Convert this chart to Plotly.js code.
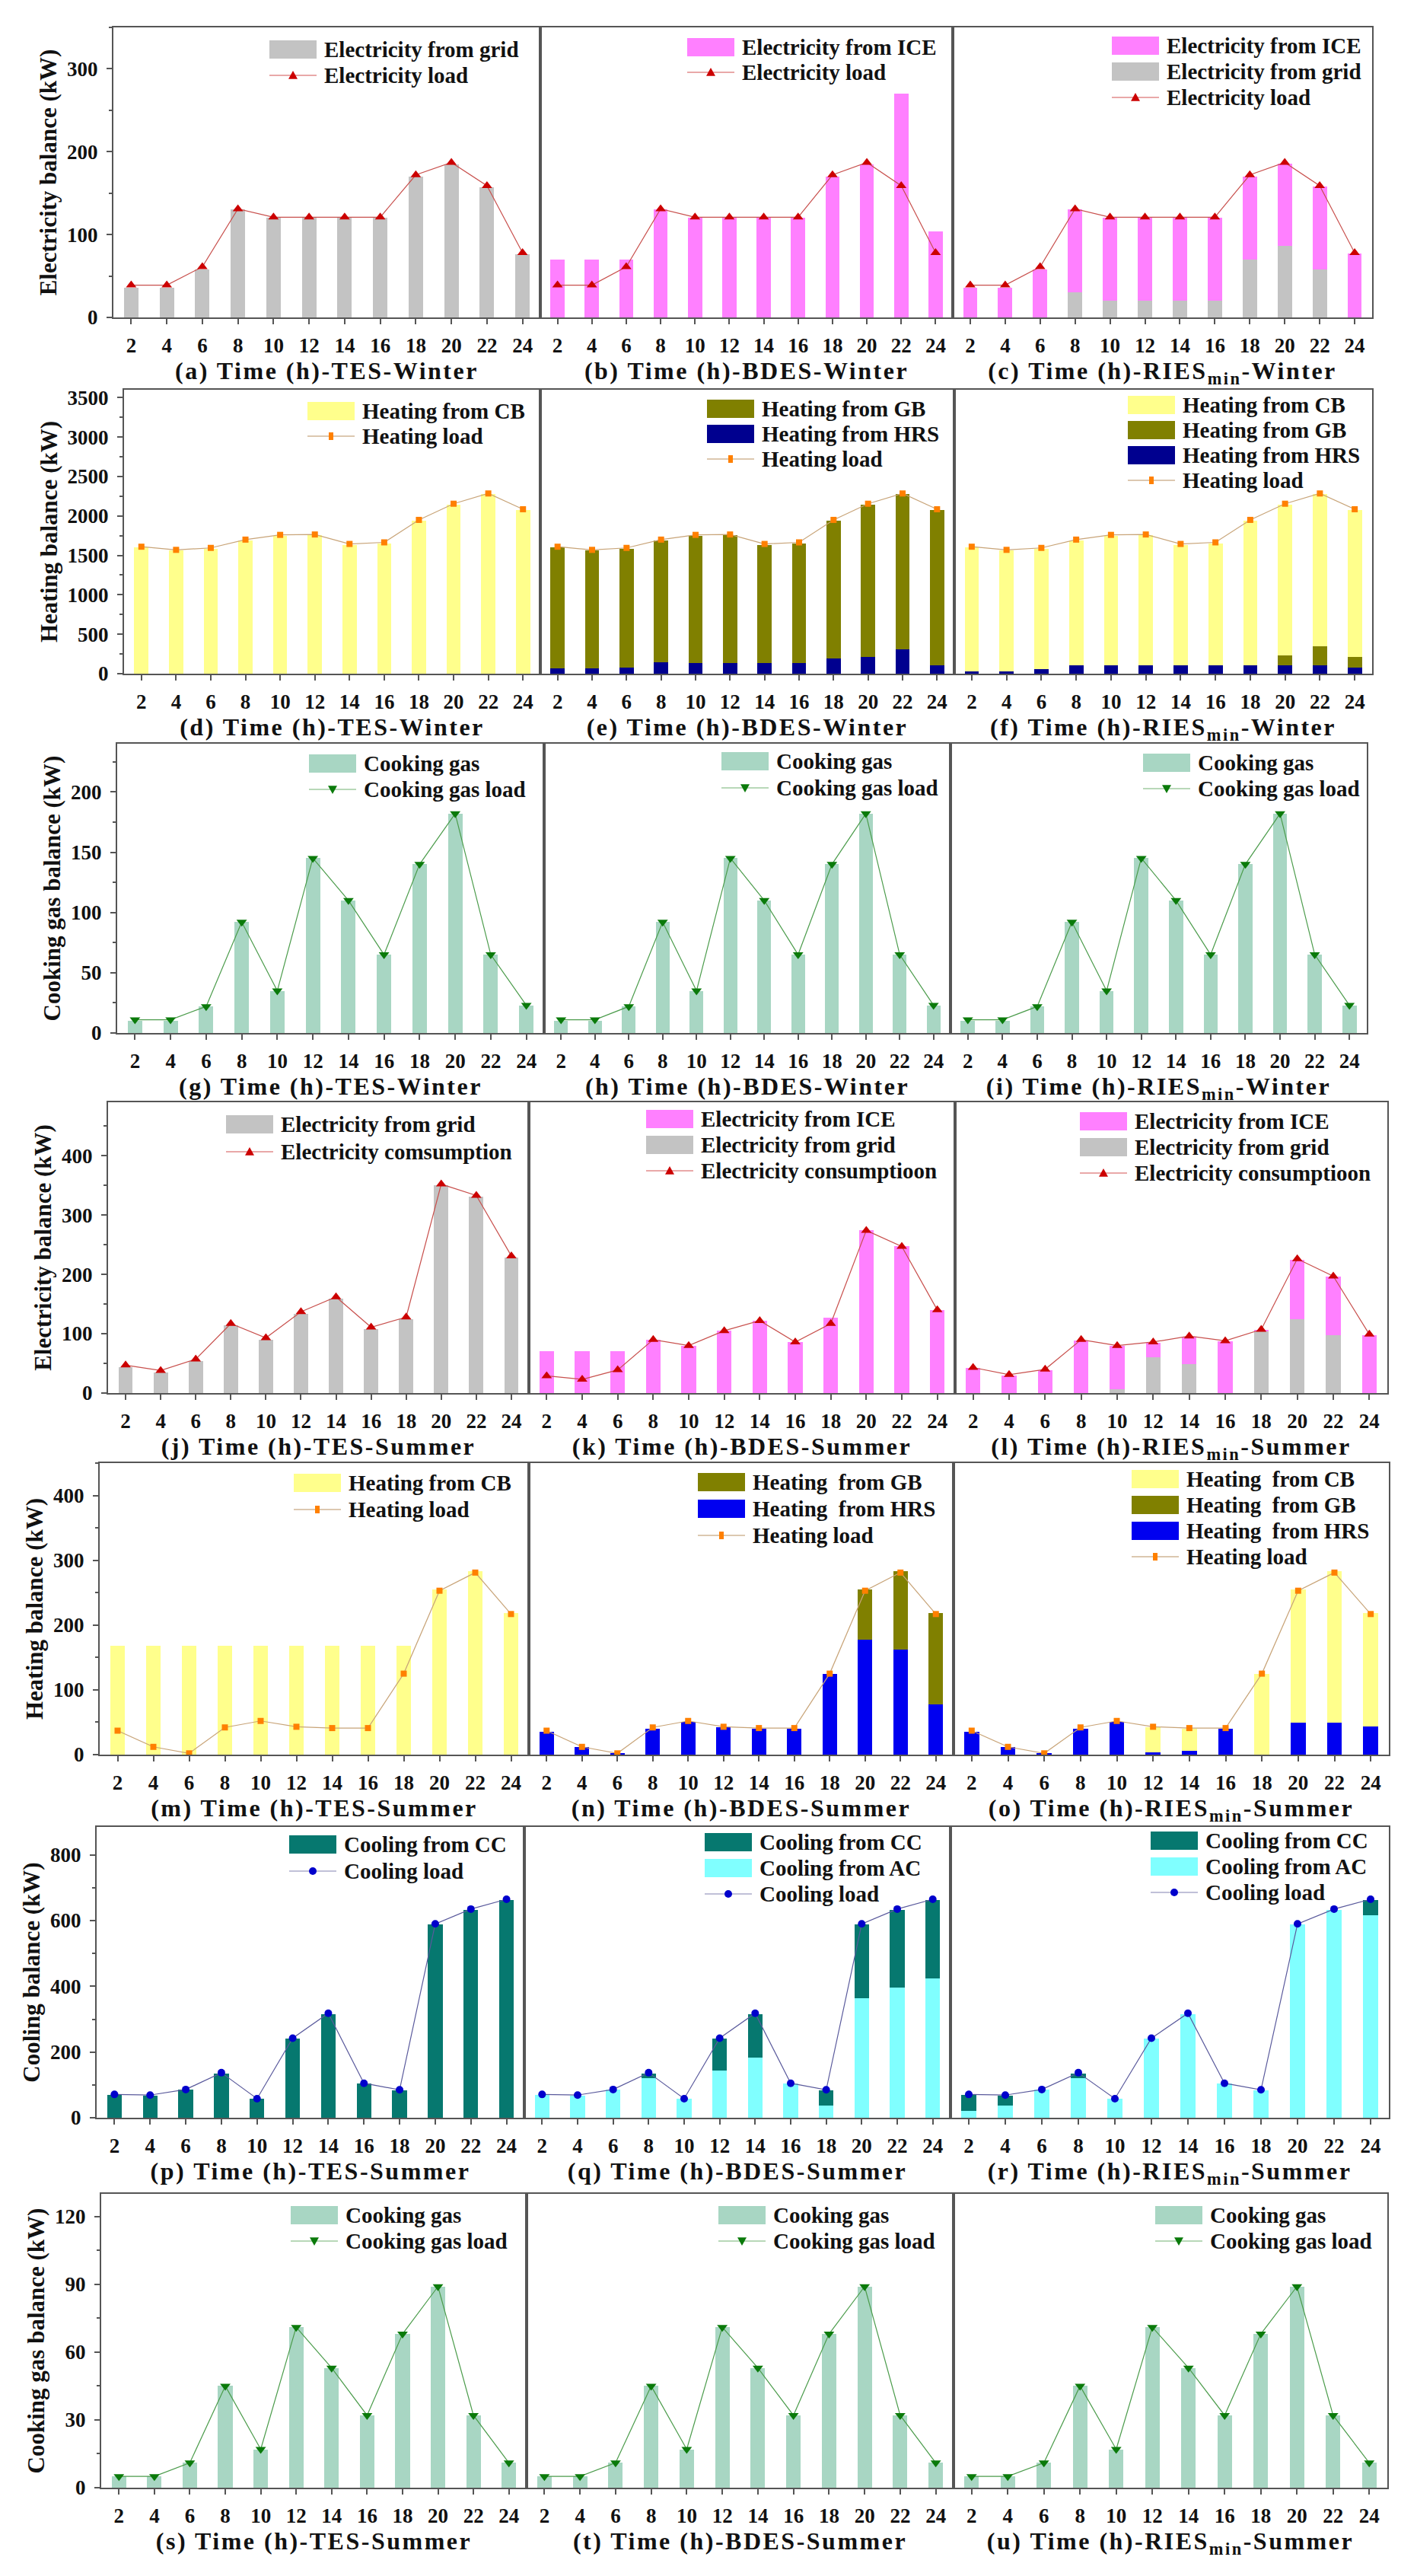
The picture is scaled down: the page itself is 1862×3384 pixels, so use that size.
<!DOCTYPE html>
<html>
<head>
<meta charset="utf-8">
<script src="https://cdn.plot.ly/plotly-3.0.1.min.js"></script>
<style>
html,body{margin:0;padding:0;background:#fff;}
#chart{width:1862px;height:3384px;}
#chart text[class^="x"][class$="title"]{letter-spacing:2.5px;}
</style>
</head>
<body>
<div id="chart"></div>
<script>
// ---------- data ----------
const hours = [2, 4, 6, 8, 10, 12, 14, 16, 18, 20, 22, 24];
const hourLabels = ['2','4','6','8','10','12','14','16','18','20','22','24'];

// Winter electricity
const elecLoadW  = [39, 39, 61, 131, 121, 121, 121, 121, 172, 187, 159, 78];
const gridTES_W  = [36, 36, 58, 130, 120, 120, 120, 120, 170, 185, 157, 76];
const iceBDES_W  = [70, 70, 70, 130, 120, 120, 120, 120, 170, 185, 270, 104];
const gridRIES_W = [0, 0, 0, 30, 20, 20, 20, 20, 70, 86, 58, 0];
const iceRIES_W  = [36, 36, 58, 100, 100, 100, 100, 100, 100, 100, 100, 77];

// Winter heating
const heatLoadW  = [1610, 1570, 1595, 1700, 1760, 1765, 1645, 1665, 1950, 2155, 2285, 2085];
const cbTES_W    = [1600, 1560, 1585, 1690, 1750, 1755, 1635, 1655, 1940, 2145, 2275, 2075];
const hrsBDES_W  = [72, 72, 75, 145, 135, 135, 135, 135, 192, 210, 306, 103];
const gbBDES_W   = [1528, 1488, 1510, 1545, 1615, 1620, 1500, 1520, 1748, 1935, 1969, 1972];
const hrsRIES_W  = [32, 32, 55, 103, 103, 103, 103, 103, 103, 103, 103, 74];
const gbRIES_W   = [0, 0, 0, 0, 0, 0, 0, 0, 0, 132, 245, 136];
const cbRIES_W   = [1568, 1528, 1530, 1587, 1647, 1652, 1532, 1552, 1837, 1910, 1927, 1865];

// Winter cooking gas
const cookLoadW  = [11, 11, 22, 92, 35, 145, 110, 65, 140, 182, 65, 23];
const cookGasW   = [10, 10, 22, 92, 35, 145, 110, 65, 140, 182, 65, 23];

// Summer electricity
const elecLoadS_TES  = [47, 38, 57, 117, 93, 137, 162, 111, 128, 352, 333, 231];
const gridTES_S      = [44, 35, 54, 114, 90, 134, 159, 108, 125, 350, 331, 228];
const elecLoadS_BDES = [29, 23, 39, 90, 80, 105, 122, 86, 117, 274, 247, 140];
const gridBDES_S     = [0, 0, 0, 0, 0, 0, 0, 0, 0, 0, 0, 0];
const iceBDES_S      = [70, 70, 70, 90, 80, 105, 122, 86, 127, 274, 247, 140];
const elecLoadS_RIES = [43, 31, 40, 90, 80, 86, 96, 88, 107, 226, 197, 99];
const gridRIES_S     = [0, 0, 0, 0, 6, 60, 49, 0, 104, 125, 97, 0];
const iceRIES_S      = [42, 30, 39, 89, 73, 25, 46, 87, 2, 100, 99, 98];

// Summer heating
const heatLoadS  = [37, 12, 2, 42, 52, 43, 41, 41, 125, 253, 281, 217];
const cbTES_S    = [168, 168, 168, 168, 168, 168, 168, 168, 168, 255, 283, 218];
const hrsBDES_S  = [35, 12, 2, 40, 50, 42, 40, 40, 125, 178, 162, 77];
const gbBDES_S   = [0, 0, 0, 0, 0, 0, 0, 0, 0, 77, 121, 141];
const hrsRIES_S  = [35, 12, 2, 40, 50, 3, 6, 40, 0, 49, 49, 43];
const gbRIES_S   = [0, 0, 0, 0, 0, 0, 0, 0, 0, 0, 0, 0];
const cbRIES_S   = [0, 0, 0, 0, 0, 39, 34, 0, 125, 206, 234, 175];

// Summer cooling
const coolLoad = [71, 69, 86, 137, 58, 242, 318, 105, 85, 590, 635, 665];
const ccTES    = [70, 68, 85, 135, 57, 240, 316, 104, 84, 588, 633, 663];
const acBDES   = [70, 68, 85, 120, 57, 144, 183, 104, 38, 364, 396, 425];
const ccBDES   = [0, 0, 0, 15, 0, 96, 133, 0, 46, 224, 237, 238];
const acRIES   = [20, 38, 85, 120, 57, 240, 316, 104, 84, 588, 633, 617];
const ccRIES   = [50, 30, 0, 15, 0, 0, 0, 0, 0, 0, 0, 46];

// Summer cooking gas
const cookLoadS = [5, 5, 11, 45, 17, 71, 53, 32, 68, 89, 32, 11];
const cookGasS  = [5, 5, 11, 45, 17, 71, 53, 32, 68, 89, 32, 11];

// Text
const yTitles = ['Electricity balance (kW)', 'Heating balance (kW)', 'Cooking gas balance (kW)',
                 'Electricity balance (kW)', 'Heating balance (kW)', 'Cooling balance (kW)', 'Cooking gas balance (kW)'];
const panelLetters = ['a','b','c','d','e','f','g','h','i','j','k','l','m','n','o','p','q','r','s','t','u'];
const systems = ['TES', 'BDES', 'RIES<sub>min</sub>'];
const seasons = ['Winter', 'Winter', 'Winter', 'Summer', 'Summer', 'Summer', 'Summer'];
const yRanges = [[0, 350], [0, 3600], [0, 240], [0, 490], [0, 450], [0, 885], [0, 130]];
const yDticks = [100, 500, 50, 100, 100, 200, 30];

// ---------- styling / layout ----------
const W = 1862, H = 3384;
const FONT = "'Liberation Serif', 'Times New Roman', serif";
const C = {grid:'#c3c3c3', ice:'#ff80ff', cb:'#ffff8c', gb:'#808000', hrsW:'#00008f', hrsS:'#0000f0',
           cook:'#a8d6c3', cc:'#06786f', ac:'#80ffff'};
const LOADSTYLE = {
  elec: {line:'#c8504d', leg:'#e9a8a8', symbol:'triangle-up', mc:'#cc0000', size:12},
  heat: {line:'#c8a478', leg:'#dcc8b0', symbol:'square', mc:'#ff8000', size:8},
  cook: {line:'#4c9c4c', leg:'#b8d8b8', symbol:'triangle-down', mc:'#0a7a0a', size:12},
  cool: {line:'#5a5a9c', leg:'#c0c0d8', symbol:'circle', mc:'#0000cc', size:10}
};
const rowsPx = [[36,417],[512,885],[977,1357],[1448,1830],[1922,2305],[2400,2782],[2882,3268]];
const colsPx = [[149,710,1252,1803],[163,710,1254,1803],[154,715,1249,1796],[142,695,1255,1823],
                [131,695,1253,1825],[127,689,1249,1825],[133,692,1253,1823]];

function B(name, y, color){ return {name, y, color}; }
function L(name, y, kind){ return {name, y, kind}; }

const panels = [
  {bars:[B('Electricity from grid', gridTES_W, C.grid)], load:L('Electricity load', elecLoadW, 'elec'), leg:[354,65,34]},
  {bars:[B('Electricity from ICE', iceBDES_W, C.ice)], load:L('Electricity load', elecLoadW, 'elec'), leg:[903,62,33]},
  {bars:[B('Electricity from grid', gridRIES_W, C.grid), B('Electricity from ICE', iceRIES_W, C.ice)], load:L('Electricity load', elecLoadW, 'elec'), leg:[1461,60,34]},

  {bars:[B('Heating from CB', cbTES_W, C.cb)], load:L('Heating load', heatLoadW, 'heat'), leg:[404,540,33]},
  {bars:[B('Heating from HRS', hrsBDES_W, C.hrsW), B('Heating from GB', gbBDES_W, C.gb)], load:L('Heating load', heatLoadW, 'heat'), leg:[929,537,33]},
  {bars:[B('Heating from HRS', hrsRIES_W, C.hrsW), B('Heating from GB', gbRIES_W, C.gb), B('Heating from CB', cbRIES_W, C.cb)], load:L('Heating load', heatLoadW, 'heat'), leg:[1482,532,33]},

  {bars:[B('Cooking gas', cookGasW, C.cook)], load:L('Cooking gas load', cookLoadW, 'cook'), leg:[406,1003,34]},
  {bars:[B('Cooking gas', cookGasW, C.cook)], load:L('Cooking gas load', cookLoadW, 'cook'), leg:[948,1000,35]},
  {bars:[B('Cooking gas', cookGasW, C.cook)], load:L('Cooking gas load', cookLoadW, 'cook'), leg:[1502,1002,34]},

  {bars:[B('Electricity from grid', gridTES_S, C.grid)], load:L('Electricity comsumption', elecLoadS_TES, 'elec'), leg:[297,1477,36]},
  {bars:[B('Electricity from grid', gridBDES_S, C.grid), B('Electricity from ICE', iceBDES_S, C.ice)], load:L('Electricity consumptioon', elecLoadS_BDES, 'elec'), leg:[849,1470,34]},
  {bars:[B('Electricity from grid', gridRIES_S, C.grid), B('Electricity from ICE', iceRIES_S, C.ice)], load:L('Electricity consumptioon', elecLoadS_RIES, 'elec'), leg:[1419,1473,34]},

  {bars:[B('Heating from CB', cbTES_S, C.cb)], load:L('Heating load', heatLoadS, 'heat'), leg:[386,1948,35]},
  {bars:[B('Heating  from HRS', hrsBDES_S, C.hrsS), B('Heating  from GB', gbBDES_S, C.gb)], load:L('Heating load', heatLoadS, 'heat'), leg:[917,1947,35]},
  {bars:[B('Heating  from HRS', hrsRIES_S, C.hrsS), B('Heating  from GB', gbRIES_S, C.gb), B('Heating  from CB', cbRIES_S, C.cb)], load:L('Heating load', heatLoadS, 'heat'), leg:[1487,1943,34]},

  {bars:[B('Cooling from CC', ccTES, C.cc)], load:L('Cooling load', coolLoad, 'cool'), leg:[380,2423,35]},
  {bars:[B('Cooling from AC', acBDES, C.ac), B('Cooling from CC', ccBDES, C.cc)], load:L('Cooling load', coolLoad, 'cool'), leg:[926,2420,34]},
  {bars:[B('Cooling from AC', acRIES, C.ac), B('Cooling from CC', ccRIES, C.cc)], load:L('Cooling load', coolLoad, 'cool'), leg:[1512,2418,34]},

  {bars:[B('Cooking gas', cookGasS, C.cook)], load:L('Cooking gas load', cookLoadS, 'cook'), leg:[382,2910,34]},
  {bars:[B('Cooking gas', cookGasS, C.cook)], load:L('Cooking gas load', cookLoadS, 'cook'), leg:[944,2910,34]},
  {bars:[B('Cooking gas', cookGasS, C.cook)], load:L('Cooking gas load', cookLoadS, 'cook'), leg:[1518,2910,34]}
];

const px = x => x / W;
const py = y => 1 - y / H;

const traces = [];
const layout = {
  width: W, height: H, autosize: false,
  margin: {l:0, r:0, t:0, b:0},
  paper_bgcolor: '#fff', plot_bgcolor: '#fff',
  showlegend: false, barmode: 'stack',
  font: {family: FONT, color: '#111', size: 26},
  shapes: [], annotations: []
};

panels.forEach((p, k) => {
  const row = Math.floor(k / 3), col = k % 3, n = k + 1;
  const xa = n === 1 ? 'x' : 'x' + n, ya = n === 1 ? 'y' : 'y' + n;
  const xk = n === 1 ? 'xaxis' : 'xaxis' + n, yk = n === 1 ? 'yaxis' : 'yaxis' + n;
  const cx = colsPx[row], ry = rowsPx[row];

  p.bars.forEach(b => traces.push({
    type: 'bar', name: b.name, x: hours, y: b.y, xaxis: xa, yaxis: ya,
    width: 0.82, marker: {color: b.color, line: {width: 0}}, hoverinfo: 'x+y+name'
  }));
  const ls = LOADSTYLE[p.load.kind];
  traces.push({
    type: 'scatter', mode: 'lines+markers', name: p.load.name, x: hours, y: p.load.y,
    xaxis: xa, yaxis: ya, line: {color: ls.line, width: 1.2},
    marker: {symbol: ls.symbol, color: ls.mc, size: ls.size, line: {width: 0}}
  });

  layout[xk] = {
    domain: [px(cx[col]), px(cx[col + 1])], anchor: ya,
    range: [1, 25], tickmode: 'array', tickvals: hours, ticktext: hourLabels,
    ticks: 'outside', ticklen: 7, tickwidth: 2, tickcolor: '#555', ticklabelstandoff: 5,
    showline: true, linecolor: '#555', linewidth: 2, mirror: true,
    showgrid: false, zeroline: false,
    tickfont: {family: FONT, size: 27, color: '#111', weight: 'bold'},
    title: {text: '(' + panelLetters[k] + ') Time (h)-' + systems[col] + '-' + seasons[row],
            font: {family: FONT, size: 32, color: '#111', weight: 'bold'}, standoff: 7}
  };
  const yax = {
    domain: [py(ry[1]), py(ry[0])], anchor: xa,
    range: yRanges[row], tick0: 0, dtick: yDticks[row],
    showline: true, linecolor: '#555', linewidth: 2, mirror: true,
    showgrid: false, zeroline: false
  };
  if (col === 0) {
    Object.assign(yax, {
      ticks: 'outside', ticklen: 7, tickwidth: 2, tickcolor: '#555', showticklabels: true, ticklabelstandoff: 6,
      tickfont: {family: FONT, size: 27, color: '#111', weight: 'bold'},
      minor: {ticks: 'outside', ticklen: 4, tickwidth: 2, tickcolor: '#555', dtick: yDticks[row] / 2, tick0: 0},
      title: {text: yTitles[row], font: {family: FONT, size: 31, color: '#111', weight: 'bold'}, standoff: 4}
    });
  } else {
    Object.assign(yax, {ticks: '', showticklabels: false});
  }
  layout[yk] = yax;

  // panel legend, drawn in page pixels
  const [sx, sy, sp] = p.leg;
  const items = p.bars.slice().reverse().map(b => ({bar: b})).concat([{load: p.load}]);
  items.forEach((it, i) => {
    const cy = sy + i * sp;
    const label = it.bar ? it.bar.name : it.load.name;
    if (it.bar) {
      layout.shapes.push({type: 'rect', xref: 'paper', yref: 'paper',
        x0: px(sx), x1: px(sx + 62), y0: py(cy + 12), y1: py(cy - 12),
        fillcolor: it.bar.color, line: {width: 0}});
    } else {
      const st = LOADSTYLE[it.load.kind];
      layout.shapes.push({type: 'line', xref: 'paper', yref: 'paper',
        x0: px(sx), x1: px(sx + 62), y0: py(cy), y1: py(cy), line: {color: st.leg, width: 2}});
      const mx = sx + 31, s = 6;
      let path;
      if (st.symbol === 'triangle-up') {
        path = `M${px(mx)},${py(cy - s)} L${px(mx + s)},${py(cy + s * 0.8)} L${px(mx - s)},${py(cy + s * 0.8)} Z`;
        layout.shapes.push({type: 'path', xref: 'paper', yref: 'paper', path, fillcolor: st.mc, line: {width: 0}});
      } else if (st.symbol === 'triangle-down') {
        path = `M${px(mx)},${py(cy + s)} L${px(mx + s)},${py(cy - s * 0.8)} L${px(mx - s)},${py(cy - s * 0.8)} Z`;
        layout.shapes.push({type: 'path', xref: 'paper', yref: 'paper', path, fillcolor: st.mc, line: {width: 0}});
      } else if (st.symbol === 'square') {
        layout.shapes.push({type: 'rect', xref: 'paper', yref: 'paper',
          x0: px(mx - 3), x1: px(mx + 3), y0: py(cy + 5), y1: py(cy - 5), fillcolor: st.mc, line: {width: 0}});
      } else {
        layout.shapes.push({type: 'circle', xref: 'paper', yref: 'paper',
          x0: px(mx - 5), x1: px(mx + 5), y0: py(cy + 5), y1: py(cy - 5), fillcolor: st.mc, line: {width: 0}});
      }
    }
    layout.annotations.push({xref: 'paper', yref: 'paper', x: px(sx + 70), y: py(cy),
      xanchor: 'left', yanchor: 'middle', showarrow: false, text: label,
      font: {family: FONT, size: 29, color: '#111', weight: 'bold'}});
  });
});

Plotly.newPlot('chart', traces, layout, {staticPlot: true, displayModeBar: false}).then(gd => {
  // drop the empty title placeholders of the axes that carry no title
  gd.querySelectorAll('text').forEach(t => { if (!t.textContent.trim()) t.remove(); });
});
</script>
</body>
</html>
